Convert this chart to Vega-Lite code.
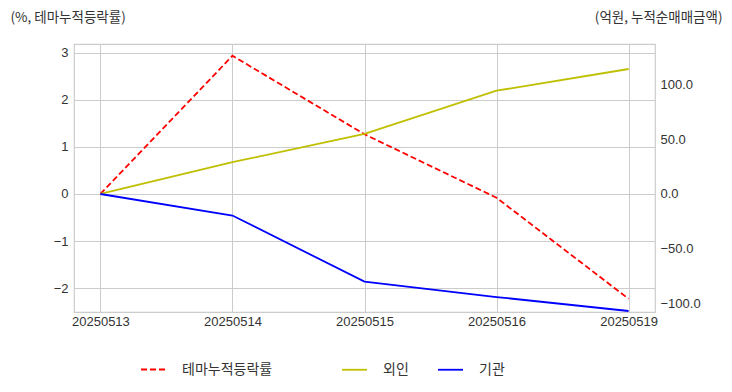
{
  "$schema": "https://vega.github.io/schema/vega-lite/v6.json",
  "width": 581,
  "height": 268,
  "autosize": {"type": "none"},
  "padding": {"left": 74, "top": 44, "right": 77, "bottom": 80},
  "background": "white",
  "config": {
    "view": {"stroke": "#cccccc", "strokeWidth": 1.2},
    "font": "Liberation Sans, Noto Sans CJK KR",
    "axis": {
      "gridColor": "#cccccc",
      "gridWidth": 1,
      "domain": false,
      "ticks": false,
      "labelColor": "#333333",
      "labelFontSize": 13,
      "titleColor": "#333333",
      "titleFontWeight": "normal",
      "titleFontSize": 13.5,
      "titleFont": "Noto Sans CJK KR"
    },
    "legend": {"labelFontSize": 14, "labelColor": "#333333", "labelFont": "Noto Sans CJK KR"}
  },
  "data": {
    "values": [
      {"date": "20250513", "series": "테마누적등락률", "value": 0},
      {"date": "20250514", "series": "테마누적등락률", "value": 2.94},
      {"date": "20250515", "series": "테마누적등락률", "value": 1.27},
      {"date": "20250516", "series": "테마누적등락률", "value": -0.08},
      {"date": "20250519", "series": "테마누적등락률", "value": -2.23},
      {"date": "20250513", "series": "외인", "value": 0},
      {"date": "20250514", "series": "외인", "value": 29.1},
      {"date": "20250515", "series": "외인", "value": 55.1},
      {"date": "20250516", "series": "외인", "value": 94.6},
      {"date": "20250519", "series": "외인", "value": 114.5},
      {"date": "20250513", "series": "기관", "value": 0},
      {"date": "20250514", "series": "기관", "value": -19.7},
      {"date": "20250515", "series": "기관", "value": -80.3},
      {"date": "20250516", "series": "기관", "value": -94.4},
      {"date": "20250519", "series": "기관", "value": -107.2}
    ]
  },
  "encoding": {
    "x": {
      "field": "date",
      "type": "ordinal",
      "scale": {"type": "point", "padding": 0.2},
      "axis": {"title": null, "labelAngle": 0, "labelPadding": 3, "grid": true}
    }
  },
  "layer": [
    {
      "transform": [{"filter": "datum.series === '테마누적등락률'"}],
      "mark": {"type": "line", "strokeDash": [6, 3], "strokeWidth": 1.8, "clip": true},
      "encoding": {
        "y": {
          "field": "value",
          "type": "quantitative",
          "scale": {"domain": [-2.51, 3.19], "nice": false, "zero": false},
          "axis": {
            "orient": "left",
            "values": [-2, -1, 0, 1, 2, 3],
            "format": "d",
            "title": "(%, 테마누적등락률)",
            "titleAngle": 0,
            "titleAlign": "left",
            "titleBaseline": "middle",
            "titleX": -64,
            "titleY": -27,
            "labelPadding": 6
          }
        },
        "color": {
          "field": "series",
          "type": "nominal",
          "scale": {"domain": ["테마누적등락률"], "range": ["#ff0000"]},
          "legend": {
            "title": null,
            "orient": "none",
            "legendX": 66,
            "legendY": 312,
            "symbolType": "stroke",
            "symbolSize": 625,
            "symbolStrokeWidth": 1.8,
            "symbolDash": [6, 3],
            "labelOffset": 15
          }
        }
      }
    },
    {
      "transform": [{"filter": "datum.series !== '테마누적등락률'"}],
      "mark": {"type": "line", "strokeWidth": 1.8, "clip": true},
      "encoding": {
        "y": {
          "field": "value",
          "type": "quantitative",
          "scale": {"domain": [-108.1, 137.4], "nice": false, "zero": false},
          "axis": {
            "orient": "right",
            "values": [-100, -50, 0, 50, 100],
            "format": ".1f",
            "title": "(억원, 누적순매매금액)",
            "titleAngle": 0,
            "titleAlign": "right",
            "titleBaseline": "middle",
            "titleX": 67,
            "titleY": -27,
            "labelPadding": 5
          }
        },
        "color": {
          "field": "series",
          "type": "nominal",
          "scale": {"domain": ["외인", "기관"], "range": ["#bfbf00", "#0000ff"]},
          "legend": {
            "title": null,
            "orient": "none",
            "direction": "horizontal",
            "legendX": 267,
            "legendY": 312,
            "symbolType": "stroke",
            "symbolSize": 625,
            "symbolStrokeWidth": 1.8,
            "labelOffset": 15,
            "columnPadding": 25
          }
        }
      }
    }
  ],
  "resolve": {"scale": {"y": "independent", "color": "independent"}}
}
